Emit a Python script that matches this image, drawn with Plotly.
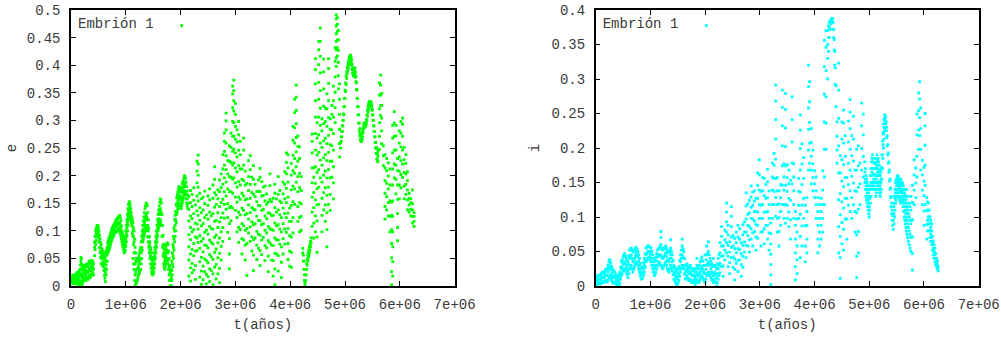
import plotly.graph_objects as go

# ---------------- data (t in millions of years) ----------------
x_ticks = [0, 1e6, 2e6, 3e6, 4e6, 5e6, 6e6, 7e6]
x_ticktext = ["0", "1e+06", "2e+06", "3e+06", "4e+06", "5e+06", "6e+06", "7e+06"]
e_ticks = [0, 0.05, 0.1, 0.15, 0.2, 0.25, 0.3, 0.35, 0.4, 0.45, 0.5]
e_ticktext = ["0", "0.05", "0.1", "0.15", "0.2", "0.25", "0.3", "0.35", "0.4", "0.45", "0.5"]
i_ticks = [0, 0.05, 0.1, 0.15, 0.2, 0.25, 0.3, 0.35, 0.4]
i_ticktext = ["0", "0.05", "0.1", "0.15", "0.2", "0.25", "0.3", "0.35", "0.4"]

series_name = "Embrión 1"

# eccentricity samples: (t [Myr], [e values at that time])
e_samples = [
    (0.00, [0.010, 0.015]), (0.01, [0.006, 0.012]), (0.02, [0.008, 0.014, 0.018]),
    (0.03, [0.004, 0.011, 0.016]), (0.04, [0.005, 0.012, 0.02]), (0.05, [0.008, 0.017]),
    (0.06, [0.01, 0.016]), (0.07, [0.004, 0.012, 0.019]), (0.08, [0.006, 0.013, 0.02]),
    (0.09, [0.01, 0.021]), (0.10, [0.008, 0.018, 0.022]), (0.11, [0.006, 0.015, 0.024]),
    (0.12, [0.004, 0.012, 0.025]), (0.13, [0.003, 0.014, 0.022]), (0.14, [0.002, 0.01, 0.02]),
    (0.15, [0.004, 0.016, 0.026]), (0.16, [0.005, 0.02, 0.03]), (0.17, [0.008, 0.024, 0.038]),
    (0.18, [0.01, 0.03, 0.045, 0.052]), (0.19, [0.0, 0.02, 0.04, 0.05]), (0.20, [0.004, 0.018, 0.035]),
    (0.21, [0.005, 0.015, 0.03]), (0.22, [0.008, 0.02, 0.032]),
    (0.23, [0.01, 0.025, 0.035]), (0.24, [0.013, 0.027, 0.037]), (0.25, [0.015, 0.03, 0.038]),
    (0.26, [0.012, 0.024, 0.036]), (0.27, [0.01, 0.02, 0.035]), (0.28, [0.013, 0.025, 0.038]),
    (0.29, [0.015, 0.028, 0.04]), (0.30, [0.014, 0.026, 0.037]), (0.31, [0.012, 0.025, 0.035]),
    (0.32, [0.016, 0.027, 0.04]), (0.33, [0.02, 0.03, 0.045]), (0.34, [0.017, 0.029, 0.043]),
    (0.35, [0.015, 0.028, 0.042]), (0.36, [0.018, 0.032, 0.044]), (0.37, [0.02, 0.035, 0.046]),
    (0.38, [0.022, 0.037, 0.046]), (0.39, [0.025, 0.04, 0.045]), (0.40, [0.022, 0.034, 0.043]),
    (0.41, [0.02, 0.03, 0.04]),
    (0.43, [0.055, 0.07, 0.08]), (0.44, [0.066, 0.079, 0.09]), (0.45, [0.075, 0.09, 0.1]),
    (0.46, [0.083, 0.095, 0.104]), (0.47, [0.09, 0.1, 0.108]), (0.48, [0.093, 0.103, 0.11]),
    (0.49, [0.095, 0.105, 0.11]), (0.50, [0.088, 0.098, 0.106]), (0.51, [0.08, 0.09, 0.1]),
    (0.52, [0.07, 0.08, 0.092]), (0.53, [0.06, 0.07, 0.085]), (0.54, [0.052, 0.063, 0.078]),
    (0.55, [0.04, 0.05, 0.06, 0.075]), (0.56, [0.042, 0.054, 0.068]), (0.57, [0.04, 0.055, 0.065]),
    (0.58, [0.037, 0.052, 0.062]), (0.59, [0.035, 0.05, 0.06]), (0.60, [0.028, 0.045, 0.058]),
    (0.61, [0.02, 0.04, 0.055]), (0.62, [0.014, 0.032, 0.05]), (0.63, [0.008, 0.025, 0.045, 0.06]),
    (0.64, [0.02, 0.038, 0.055, 0.063]), (0.65, [0.03, 0.045, 0.058, 0.065]),
    (0.66, [0.045, 0.058, 0.07]),
    (0.67, [0.06, 0.07, 0.078]), (0.68, [0.062, 0.072, 0.081]), (0.69, [0.065, 0.075, 0.085]),
    (0.70, [0.067, 0.078, 0.088]), (0.71, [0.07, 0.08, 0.09]), (0.72, [0.075, 0.085, 0.094]),
    (0.73, [0.08, 0.09, 0.097]), (0.74, [0.082, 0.092, 0.101]), (0.75, [0.085, 0.095, 0.105]),
    (0.76, [0.088, 0.098, 0.106]), (0.77, [0.09, 0.1, 0.108]), (0.78, [0.092, 0.103, 0.11]),
    (0.79, [0.095, 0.105, 0.112]), (0.80, [0.097, 0.106, 0.114]), (0.81, [0.1, 0.108, 0.116]),
    (0.82, [0.099, 0.109, 0.118]), (0.83, [0.098, 0.11, 0.12]), (0.84, [0.099, 0.111, 0.121]),
    (0.85, [0.1, 0.112, 0.122]), (0.86, [0.103, 0.114, 0.124]), (0.87, [0.105, 0.115, 0.125]),
    (0.88, [0.102, 0.115, 0.127]), (0.89, [0.1, 0.115, 0.128]), (0.90, [0.095, 0.11, 0.123]),
    (0.91, [0.09, 0.105, 0.118]), (0.92, [0.085, 0.098, 0.109]), (0.93, [0.08, 0.092, 0.1]),
    (0.94, [0.075, 0.086, 0.095]), (0.95, [0.07, 0.08, 0.09]), (0.96, [0.065, 0.075, 0.085]),
    (0.97, [0.06, 0.07, 0.08]), (0.98, [0.062, 0.072, 0.085]), (0.99, [0.065, 0.075, 0.09]),
    (1.00, [0.072, 0.085, 0.1]),
    (1.01, [0.08, 0.095, 0.11]), (1.02, [0.09, 0.105, 0.12]), (1.03, [0.1, 0.115, 0.13]),
    (1.04, [0.11, 0.125, 0.14]), (1.05, [0.12, 0.135, 0.148]), (1.06, [0.125, 0.14, 0.151]),
    (1.07, [0.13, 0.145, 0.153]), (1.08, [0.125, 0.137, 0.147]), (1.09, [0.12, 0.13, 0.14]),
    (1.10, [0.115, 0.125, 0.133]), (1.11, [0.11, 0.12, 0.125]), (1.12, [0.095, 0.108, 0.12]),
    (1.13, [0.05, 0.09, 0.1, 0.115]), (1.14, [0.04, 0.075, 0.09, 0.105]),
    (1.15, [0.03, 0.06, 0.08, 0.1]), (1.16, [0.01, 0.04, 0.06, 0.085]),
    (1.17, [0.0, 0.02, 0.04, 0.07]), (1.18, [0.003, 0.025, 0.045, 0.06]),
    (1.19, [0.005, 0.03, 0.05]), (1.20, [0.008, 0.03, 0.047]), (1.21, [0.01, 0.03, 0.045]),
    (1.22, [0.015, 0.032, 0.047]), (1.23, [0.02, 0.035, 0.05]), (1.24, [0.022, 0.04, 0.055]),
    (1.25, [0.025, 0.045, 0.06]), (1.26, [0.028, 0.047, 0.065]), (1.27, [0.03, 0.05, 0.07]),
    (1.28, [0.04, 0.06, 0.08]), (1.29, [0.05, 0.07, 0.09]), (1.30, [0.065, 0.083, 0.1]),
    (1.31, [0.08, 0.095, 0.11]), (1.32, [0.085, 0.103, 0.118]), (1.33, [0.09, 0.11, 0.125]),
    (1.34, [0.095, 0.115, 0.133]), (1.35, [0.1, 0.12, 0.14]), (1.36, [0.105, 0.125, 0.145]),
    (1.37, [0.11, 0.13, 0.15]), (1.38, [0.105, 0.125, 0.148]), (1.39, [0.1, 0.12, 0.145]),
    (1.40, [0.09, 0.11, 0.133]), (1.41, [0.08, 0.1, 0.12]), (1.42, [0.07, 0.088, 0.105]),
    (1.43, [0.06, 0.075, 0.09]), (1.44, [0.05, 0.065, 0.08]), (1.45, [0.04, 0.055, 0.07]),
    (1.46, [0.032, 0.048, 0.065]), (1.47, [0.025, 0.04, 0.06]), (1.48, [0.022, 0.035, 0.052]),
    (1.49, [0.02, 0.03, 0.045]), (1.50, [0.022, 0.035, 0.048]), (1.51, [0.025, 0.04, 0.05]),
    (1.52, [0.032, 0.047, 0.06]), (1.53, [0.04, 0.055, 0.07]), (1.54, [0.05, 0.065, 0.08]),
    (1.55, [0.06, 0.075, 0.09]), (1.56, [0.07, 0.085, 0.1]), (1.57, [0.08, 0.095, 0.11]),
    (1.58, [0.09, 0.105, 0.12]), (1.59, [0.1, 0.115, 0.13]), (1.60, [0.105, 0.122, 0.138]),
    (1.61, [0.11, 0.13, 0.145]), (1.62, [0.115, 0.135, 0.152]), (1.63, [0.12, 0.14, 0.158]),
    (1.64, [0.115, 0.135, 0.155]), (1.65, [0.11, 0.13, 0.15]), (1.66, [0.09, 0.11, 0.13]),
    (1.67, [0.07, 0.09, 0.11]), (1.68, [0.055, 0.075, 0.092]), (1.69, [0.04, 0.06, 0.075]),
    (1.70, [0.035, 0.052, 0.067]), (1.71, [0.03, 0.045, 0.06]), (1.72, [0.035, 0.05, 0.065]),
    (1.73, [0.04, 0.055, 0.07]), (1.74, [0.045, 0.06, 0.074]), (1.75, [0.05, 0.065, 0.078]),
    (1.76, [0.045, 0.063, 0.077]), (1.77, [0.04, 0.06, 0.075]), (1.78, [0.03, 0.048, 0.063]),
    (1.79, [0.02, 0.035, 0.05]), (1.80, [0.01, 0.022, 0.037]), (1.81, [0.0, 0.01, 0.025]),
    (1.82, [0.0, 0.012, 0.027]), (1.83, [0.0, 0.015, 0.03]), (1.84, [0.01, 0.028, 0.045]),
    (1.85, [0.02, 0.04, 0.06]), (1.86, [0.035, 0.055, 0.075]), (1.87, [0.05, 0.07, 0.09]),
    (1.88, [0.065, 0.085, 0.105]), (1.89, [0.08, 0.1, 0.12]), (1.90, [0.09, 0.11, 0.128]),
    (1.91, [0.1, 0.12, 0.135]), (1.92, [0.115, 0.133, 0.148]), (1.93, [0.13, 0.145, 0.16]),
    (1.94, [0.135, 0.15, 0.165]), (1.95, [0.14, 0.155, 0.17]), (1.96, [0.145, 0.16, 0.175]),
    (1.97, [0.15, 0.165, 0.18]), (1.98, [0.148, 0.162, 0.178]), (1.99, [0.145, 0.16, 0.175]),
    (2.00, [0.142, 0.157, 0.172]), (2.01, [0.14, 0.155, 0.17]), (2.02, [0.145, 0.162, 0.178]),
    (2.03, [0.15, 0.17, 0.185]), (2.04, [0.155, 0.172, 0.188]), (2.05, [0.16, 0.175, 0.19]),
    (2.06, [0.165, 0.18, 0.195]), (2.07, [0.17, 0.185, 0.2]), (2.08, [0.168, 0.183, 0.198]),
    (2.09, [0.165, 0.18, 0.195]), (2.10, [0.158, 0.172, 0.188]), (2.11, [0.15, 0.165, 0.18]),
    (2.12, [0.145, 0.158, 0.172]), (2.13, [0.14, 0.15, 0.165]),
    (2.15, [0.018, 0.047, 0.071, 0.093, 0.118, 0.139, 0.162]),
    (2.18, [0.009, 0.033, 0.058, 0.084, 0.106, 0.127, 0.151, 0.173]),
    (2.21, [0.024, 0.041, 0.066, 0.098, 0.122, 0.144, 0.166]),
    (2.24, [0.029, 0.055, 0.077, 0.102, 0.131, 0.155, 0.178]),
    (2.27, [0.012, 0.037, 0.063, 0.089, 0.114, 0.147]),
    (2.30, [0.064, 0.087, 0.112, 0.136, 0.163, 0.187, 0.208, 0.226]),
    (2.32, [0.079, 0.103, 0.128, 0.154, 0.179, 0.201, 0.221, 0.237]),
    (2.35, [0.016, 0.044, 0.068, 0.091, 0.119, 0.142, 0.168]),
    (2.38, [0.003, 0.027, 0.052, 0.081, 0.109, 0.133, 0.158]),
    (2.41, [0.011, 0.036, 0.062, 0.086, 0.113, 0.138, 0.161]),
    (2.44, [0.026, 0.049, 0.074, 0.097, 0.124, 0.149, 0.172]),
    (2.47, [0.004, 0.021, 0.046, 0.073, 0.101, 0.129]),
    (2.50, [0.017, 0.042, 0.069, 0.094, 0.121, 0.146, 0.163]),
    (2.53, [0.008, 0.031, 0.057, 0.083, 0.108, 0.134, 0.156, 0.176]),
    (2.56, [0.028, 0.053, 0.079, 0.104, 0.127]),
    (2.59, [0.002, 0.022, 0.048, 0.076, 0.103, 0.131, 0.159, 0.183]),
    (2.62, [0.034, 0.061, 0.088, 0.117, 0.143, 0.169, 0.193, 0.216]),
    (2.65, [0.013, 0.039, 0.067, 0.092, 0.119, 0.148, 0.165]),
    (2.68, [0.022, 0.051, 0.078, 0.106, 0.133, 0.158, 0.174]),
    (2.71, [0.006, 0.032, 0.059, 0.087, 0.116, 0.144, 0.171, 0.192]),
    (2.74, [0.047, 0.072, 0.098, 0.124, 0.151, 0.178, 0.203]),
    (2.77, [0.081, 0.106, 0.132, 0.157, 0.184, 0.212, 0.238]),
    (2.80, [0.123, 0.148, 0.171, 0.196, 0.219, 0.244, 0.262, 0.277]),
    (2.83, [0.139, 0.163, 0.188, 0.211, 0.236, 0.259, 0.283, 0.299, 0.313]),
    (2.86, [0.097, 0.124, 0.149, 0.176, 0.203, 0.227]),
    (2.89, [0.031, 0.058, 0.086, 0.113, 0.142, 0.171, 0.198, 0.226, 0.254]),
    (2.92, [0.118, 0.144, 0.171, 0.197, 0.224, 0.251, 0.277]),
    (2.95, [0.141, 0.168, 0.193, 0.219, 0.244, 0.271, 0.298, 0.323, 0.348, 0.362]),
    (2.97, [0.196, 0.223, 0.248, 0.272, 0.296, 0.317, 0.336, 0.354, 0.373]),
    (3.00, [0.137, 0.161, 0.187, 0.214, 0.241, 0.266, 0.289, 0.311, 0.331]),
    (3.03, [0.098, 0.124, 0.152, 0.179, 0.207, 0.234, 0.261, 0.283]),
    (3.06, [0.079, 0.106, 0.134, 0.161, 0.189, 0.218, 0.246, 0.274, 0.298]),
    (3.09, [0.102, 0.129, 0.157, 0.183, 0.212, 0.238, 0.262]),
    (3.12, [0.058, 0.086, 0.113, 0.141, 0.168, 0.193, 0.212]),
    (3.15, [0.083, 0.109, 0.137, 0.163, 0.191, 0.219, 0.246, 0.268]),
    (3.18, [0.047, 0.074, 0.101, 0.129, 0.156, 0.183, 0.208]),
    (3.21, [0.019, 0.077, 0.104, 0.131, 0.158, 0.186]),
    (3.24, [0.096, 0.121, 0.147, 0.173, 0.198, 0.227]),
    (3.27, [0.081, 0.107, 0.133, 0.159, 0.184, 0.211, 0.236]),
    (3.30, [0.063, 0.089, 0.116, 0.142, 0.169, 0.197]),
    (3.33, [0.028, 0.056, 0.084, 0.111, 0.139, 0.166, 0.193, 0.218]),
    (3.36, [0.087, 0.113, 0.138, 0.162, 0.184]),
    (3.39, [0.048, 0.074, 0.099, 0.126, 0.153, 0.171]),
    (3.42, [0.068, 0.094, 0.119, 0.146, 0.172, 0.192]),
    (3.45, [0.037, 0.064, 0.092, 0.118, 0.145, 0.171, 0.197, 0.213]),
    (3.48, [0.057, 0.083, 0.111, 0.137, 0.163, 0.189]),
    (3.51, [0.088, 0.113, 0.139, 0.164, 0.179]),
    (3.54, [0.046, 0.073, 0.101, 0.127, 0.154, 0.181]),
    (3.57, [0.069, 0.096, 0.122, 0.148, 0.167]),
    (3.60, [0.026, 0.054, 0.082, 0.108, 0.133, 0.152]),
    (3.63, [0.078, 0.104, 0.131, 0.157, 0.182, 0.203]),
    (3.66, [0.047, 0.074, 0.102, 0.128, 0.153]),
    (3.69, [0.018, 0.046, 0.073, 0.101, 0.128, 0.159]),
    (3.72, [0.002, 0.031, 0.059, 0.087, 0.114, 0.142, 0.168, 0.184]),
    (3.75, [0.058, 0.084, 0.109, 0.134, 0.158]),
    (3.78, [0.027, 0.055, 0.083, 0.111, 0.138, 0.166, 0.198]),
    (3.81, [0.076, 0.103, 0.129, 0.154, 0.173]),
    (3.84, [0.015, 0.043, 0.071, 0.098, 0.124, 0.151]),
    (3.87, [0.058, 0.086, 0.113, 0.141, 0.167, 0.188]),
    (3.90, [0.076, 0.103, 0.131, 0.158, 0.184, 0.207]),
    (3.93, [0.097, 0.124, 0.151, 0.177, 0.203, 0.224, 0.241]),
    (3.96, [0.048, 0.077, 0.104, 0.132, 0.161, 0.188, 0.214, 0.238]),
    (3.99, [0.036, 0.063, 0.091, 0.117, 0.141]),
    (4.02, [0.034, 0.061, 0.089, 0.117, 0.146, 0.174, 0.201, 0.222]),
    (4.05, [0.096, 0.124, 0.153, 0.181, 0.209, 0.237, 0.264, 0.289]),
    (4.08, [0.148, 0.176, 0.204, 0.231, 0.259, 0.287, 0.314, 0.338]),
    (4.11, [0.188, 0.216, 0.243, 0.269, 0.294, 0.318, 0.342, 0.364]),
    (4.14, [0.117, 0.144, 0.171, 0.198, 0.226, 0.253, 0.272]),
    (4.17, [0.098, 0.124, 0.151, 0.178, 0.204, 0.231, 0.252]),
    (4.20, [0.101, 0.126, 0.149, 0.173, 0.198]),
    (4.23, [0.06, 0.068]), (4.24, [0.045, 0.056]), (4.25, [0.03, 0.045]), (4.26, [0.01, 0.02]),
    (4.27, [0.0, 0.005]), (4.28, [0.01, 0.02]), (4.29, [0.02, 0.03]), (4.30, [0.03, 0.04]),
    (4.31, [0.038, 0.048]), (4.32, [0.045, 0.055]), (4.33, [0.05, 0.06]), (4.34, [0.055, 0.065]),
    (4.35, [0.06, 0.07]), (4.36, [0.065, 0.075]), (4.37, [0.071, 0.081]), (4.38, [0.078, 0.087]),
    (4.40, [0.108, 0.134, 0.161, 0.187, 0.214, 0.241, 0.262, 0.275]),
    (4.43, [0.087, 0.114, 0.142, 0.169, 0.197, 0.214]),
    (4.46, [0.098, 0.127, 0.156, 0.186, 0.216, 0.246, 0.276, 0.306, 0.336, 0.366, 0.392, 0.412]),
    (4.49, [0.061, 0.089, 0.118, 0.147, 0.176, 0.206, 0.237, 0.268, 0.296]),
    (4.52, [0.148, 0.179, 0.211, 0.242, 0.274, 0.306, 0.338, 0.369, 0.401, 0.428, 0.443]),
    (4.55, [0.196, 0.228, 0.259, 0.291, 0.322, 0.354, 0.386, 0.416, 0.443, 0.467]),
    (4.58, [0.098, 0.128, 0.159, 0.188, 0.219, 0.251, 0.281, 0.303]),
    (4.61, [0.138, 0.169, 0.201, 0.232, 0.263, 0.294, 0.326, 0.357, 0.388, 0.411]),
    (4.64, [0.117, 0.147, 0.178, 0.208, 0.238, 0.268, 0.298, 0.322]),
    (4.67, [0.071, 0.102, 0.133, 0.164, 0.196, 0.227, 0.258, 0.289, 0.321, 0.348]),
    (4.70, [0.148, 0.179, 0.211, 0.242, 0.273, 0.305, 0.336, 0.367, 0.394, 0.412]),
    (4.73, [0.137, 0.166, 0.196, 0.226, 0.256, 0.284, 0.303]),
    (4.76, [0.197, 0.226, 0.254, 0.283, 0.311, 0.327]),
    (4.79, [0.158, 0.187, 0.216, 0.246, 0.276, 0.306, 0.336, 0.362]),
    (4.82, [0.296, 0.323, 0.351, 0.379, 0.407, 0.432]),
    (4.84, [0.398, 0.413, 0.428, 0.443, 0.457, 0.471, 0.484, 0.491]),
    (4.86, [0.417, 0.432, 0.446, 0.461, 0.474, 0.486]),
    (4.88, [0.357, 0.381, 0.405, 0.427, 0.446, 0.463]),
    (4.90, [0.234, 0.258, 0.284, 0.311, 0.338, 0.366]),
    (4.92, [0.25, 0.26]), (4.93, [0.262, 0.27]), (4.94, [0.27, 0.28]), (4.95, [0.28, 0.29]),
    (4.96, [0.29, 0.3]), (4.97, [0.3, 0.312]), (4.98, [0.31, 0.325]), (4.99, [0.325, 0.34]),
    (5.00, [0.34, 0.355]), (5.01, [0.352, 0.368]), (5.02, [0.365, 0.38]), (5.03, [0.376, 0.388]),
    (5.04, [0.385, 0.395]), (5.05, [0.39, 0.4]), (5.06, [0.395, 0.405]), (5.07, [0.4, 0.41]),
    (5.08, [0.405, 0.415]), (5.09, [0.408, 0.417]), (5.10, [0.41, 0.418]), (5.11, [0.405, 0.414]),
    (5.12, [0.4, 0.41]), (5.13, [0.392, 0.402]), (5.14, [0.385, 0.395]), (5.15, [0.382, 0.392]),
    (5.16, [0.38, 0.39]), (5.17, [0.383, 0.393]), (5.18, [0.385, 0.395]), (5.19, [0.378, 0.388]),
    (5.20, [0.37, 0.38]), (5.21, [0.356, 0.368]), (5.22, [0.34, 0.355]), (5.23, [0.325, 0.34]),
    (5.24, [0.31, 0.325]), (5.25, [0.295, 0.31]), (5.26, [0.28, 0.295]), (5.27, [0.272, 0.285]),
    (5.28, [0.265, 0.275]), (5.29, [0.262, 0.272]), (5.30, [0.262, 0.27]), (5.31, [0.265, 0.275]),
    (5.32, [0.27, 0.28]), (5.33, [0.278, 0.286]), (5.34, [0.285, 0.292]), (5.35, [0.287, 0.294]),
    (5.36, [0.288, 0.295]), (5.37, [0.289, 0.296]), (5.38, [0.29, 0.296]), (5.39, [0.294, 0.302]),
    (5.40, [0.3, 0.31]), (5.41, [0.308, 0.318]), (5.42, [0.315, 0.325]), (5.43, [0.32, 0.33]),
    (5.44, [0.325, 0.333]), (5.45, [0.327, 0.334]), (5.46, [0.328, 0.334]), (5.47, [0.327, 0.334]),
    (5.48, [0.325, 0.332]), (5.49, [0.318, 0.327]), (5.50, [0.31, 0.32]), (5.51, [0.3, 0.31]),
    (5.52, [0.29, 0.3]), (5.53, [0.28, 0.29]), (5.54, [0.27, 0.28]), (5.55, [0.26, 0.27]),
    (5.56, [0.25, 0.26]), (5.57, [0.24, 0.25]), (5.58, [0.23, 0.24, 0.25]), (5.59, [0.228, 0.24]),
    (5.60, [0.225, 0.235, 0.245]),
    (5.63, [0.247, 0.271, 0.296, 0.321, 0.346, 0.368]),
    (5.65, [0.309, 0.327, 0.346, 0.364, 0.382]),
    (5.67, [0.258, 0.281, 0.304, 0.327, 0.349]),
    (5.70, [0.218, 0.236, 0.254]),
    (5.73, [0.121, 0.144, 0.168, 0.191, 0.214, 0.238]),
    (5.76, [0.138, 0.162, 0.186, 0.209, 0.231]),
    (5.79, [0.127, 0.151, 0.176, 0.199, 0.223]),
    (5.82, [0.098, 0.126, 0.154, 0.183, 0.212]),
    (5.85, [0.002, 0.026, 0.051, 0.077, 0.102, 0.128, 0.152]),
    (5.87, [0.018, 0.044, 0.071, 0.098, 0.126, 0.154, 0.183, 0.212, 0.241, 0.268, 0.291]),
    (5.90, [0.196, 0.221, 0.246, 0.271, 0.295, 0.316]),
    (5.93, [0.167, 0.193, 0.219, 0.246, 0.272, 0.291]),
    (5.96, [0.082, 0.106, 0.131, 0.157, 0.183, 0.209, 0.231]),
    (5.99, [0.158, 0.183, 0.208, 0.234, 0.259, 0.281]),
    (6.02, [0.178, 0.202, 0.227, 0.252, 0.277, 0.298]),
    (6.05, [0.197, 0.221, 0.246, 0.271, 0.293, 0.304]),
    (6.08, [0.158, 0.181, 0.206, 0.229, 0.251]),
    (6.11, [0.166, 0.184, 0.203, 0.222, 0.238]),
    (6.14, [0.138, 0.156, 0.174, 0.191, 0.207]),
    (6.17, [0.134, 0.147, 0.159, 0.168]),
    (6.20, [0.127, 0.139, 0.151, 0.158]),
    (6.23, [0.114, 0.126, 0.138, 0.149, 0.174]),
    (6.26, [0.108, 0.117, 0.126, 0.133]),
]

# inclination samples: (t [Myr], [i values at that time])
i_samples = [
    (0.00, [0.004, 0.01, 0.014]), (0.015, [0.003, 0.009, 0.013]), (0.03, [0.002, 0.008, 0.013]),
    (0.045, [0.004, 0.009, 0.015]), (0.06, [0.005, 0.01, 0.016]), (0.075, [0.004, 0.01, 0.015]),
    (0.09, [0.003, 0.009, 0.015]), (0.105, [0.005, 0.011, 0.018]), (0.12, [0.006, 0.013, 0.02]),
    (0.135, [0.006, 0.012, 0.019]), (0.15, [0.005, 0.012, 0.018]), (0.165, [0.007, 0.014, 0.021]),
    (0.18, [0.008, 0.016, 0.024]), (0.195, [0.007, 0.015, 0.024]), (0.21, [0.006, 0.015, 0.025]),
    (0.225, [0.009, 0.02, 0.03]), (0.24, [0.012, 0.025, 0.035]), (0.25, [0.014, 0.027, 0.037]),
    (0.26, [0.015, 0.028, 0.038]), (0.275, [0.011, 0.023, 0.033]), (0.29, [0.008, 0.018, 0.028]),
    (0.305, [0.006, 0.015, 0.025]), (0.32, [0.004, 0.012, 0.022]), (0.335, [0.005, 0.013, 0.021]),
    (0.35, [0.006, 0.014, 0.02]), (0.365, [0.004, 0.011, 0.017]), (0.38, [0.002, 0.008, 0.015]),
    (0.395, [0.001, 0.007, 0.013]), (0.41, [0.0, 0.006, 0.012]), (0.425, [0.002, 0.009, 0.016]),
    (0.44, [0.004, 0.012, 0.02]), (0.455, [0.01, 0.018, 0.027]), (0.47, [0.015, 0.025, 0.035]),
    (0.485, [0.018, 0.028, 0.038]), (0.50, [0.022, 0.032, 0.042]), (0.515, [0.023, 0.033, 0.045]),
    (0.53, [0.025, 0.035, 0.047]), (0.545, [0.022, 0.032, 0.043]), (0.56, [0.02, 0.03, 0.04]),
    (0.575, [0.016, 0.026, 0.037]), (0.59, [0.012, 0.022, 0.035]), (0.605, [0.018, 0.031, 0.044]),
    (0.62, [0.025, 0.04, 0.052]), (0.635, [0.028, 0.043, 0.054]), (0.65, [0.03, 0.045, 0.055]),
    (0.665, [0.025, 0.04, 0.052]), (0.68, [0.02, 0.035, 0.05]), (0.695, [0.024, 0.038, 0.051]),
    (0.71, [0.028, 0.04, 0.052]), (0.725, [0.032, 0.044, 0.054]), (0.74, [0.035, 0.048, 0.056]),
    (0.755, [0.033, 0.045, 0.053]), (0.77, [0.03, 0.042, 0.05]), (0.785, [0.025, 0.036, 0.045]),
    (0.80, [0.02, 0.03, 0.04]), (0.815, [0.015, 0.024, 0.033]), (0.83, [0.01, 0.018, 0.026]),
    (0.845, [0.011, 0.019, 0.027]), (0.86, [0.012, 0.02, 0.028]), (0.875, [0.016, 0.025, 0.034]),
    (0.89, [0.02, 0.03, 0.04]), (0.905, [0.027, 0.037, 0.047]), (0.92, [0.035, 0.045, 0.055]),
    (0.935, [0.037, 0.047, 0.056]), (0.95, [0.04, 0.05, 0.058]), (0.965, [0.041, 0.05, 0.058]),
    (0.98, [0.042, 0.05, 0.057]), (0.995, [0.038, 0.047, 0.056]), (1.01, [0.035, 0.045, 0.055]),
    (1.025, [0.03, 0.04, 0.05]), (1.04, [0.025, 0.035, 0.045]), (1.055, [0.02, 0.03, 0.04]),
    (1.07, [0.015, 0.025, 0.035]), (1.085, [0.017, 0.027, 0.038]), (1.10, [0.02, 0.03, 0.042]),
    (1.115, [0.025, 0.036, 0.047]), (1.13, [0.03, 0.042, 0.052]), (1.145, [0.032, 0.043, 0.053]),
    (1.16, [0.035, 0.045, 0.055]), (1.175, [0.032, 0.045, 0.058]),
    (1.19, [0.03, 0.045, 0.06, 0.07, 0.079]), (1.205, [0.028, 0.042, 0.055]),
    (1.22, [0.025, 0.04, 0.052]), (1.235, [0.027, 0.041, 0.053]), (1.25, [0.03, 0.042, 0.055]),
    (1.265, [0.032, 0.045, 0.056]), (1.28, [0.035, 0.048, 0.058]), (1.295, [0.03, 0.043, 0.054]),
    (1.31, [0.025, 0.038, 0.05]), (1.325, [0.022, 0.036, 0.049]), (1.34, [0.02, 0.035, 0.048]),
    (1.355, [0.025, 0.04, 0.052]), (1.37, [0.03, 0.045, 0.055, 0.067]), (1.385, [0.026, 0.04, 0.05]),
    (1.40, [0.022, 0.035, 0.045]), (1.415, [0.016, 0.027, 0.037]), (1.43, [0.01, 0.02, 0.03]),
    (1.445, [0.007, 0.017, 0.027]), (1.46, [0.005, 0.015, 0.025]), (1.475, [0.002, 0.012, 0.022]),
    (1.49, [0.0, 0.01, 0.02]), (1.505, [0.004, 0.014, 0.024]), (1.52, [0.008, 0.018, 0.028]),
    (1.535, [0.014, 0.026, 0.037]), (1.55, [0.02, 0.035, 0.045]), (1.565, [0.025, 0.04, 0.052]),
    (1.58, [0.03, 0.045, 0.058, 0.068]), (1.595, [0.028, 0.042, 0.054]), (1.61, [0.025, 0.04, 0.05]),
    (1.625, [0.017, 0.03, 0.04]), (1.64, [0.01, 0.02, 0.03]), (1.655, [0.012, 0.022, 0.031]),
    (1.67, [0.015, 0.025, 0.032]), (1.685, [0.011, 0.021, 0.028]), (1.70, [0.008, 0.018, 0.025]),
    (1.715, [0.009, 0.019, 0.027]), (1.73, [0.01, 0.02, 0.03]), (1.745, [0.007, 0.017, 0.026]),
    (1.76, [0.005, 0.015, 0.022]), (1.775, [0.006, 0.015, 0.023]), (1.79, [0.008, 0.016, 0.025]),
    (1.805, [0.005, 0.013, 0.022]), (1.82, [0.002, 0.01, 0.02]), (1.835, [0.006, 0.015, 0.025]),
    (1.85, [0.01, 0.02, 0.03, 0.04]), (1.865, [0.007, 0.017, 0.027]), (1.88, [0.005, 0.015, 0.025]),
    (1.895, [0.007, 0.017, 0.03]), (1.91, [0.01, 0.02, 0.035]), (1.925, [0.012, 0.024, 0.038]),
    (1.94, [0.015, 0.028, 0.042]), (1.955, [0.012, 0.024, 0.036]), (1.97, [0.01, 0.02, 0.03]),
    (1.985, [0.007, 0.019, 0.03]), (2.00, [0.005, 0.018, 0.03, 0.045]), (2.015, [0.01, 0.024, 0.038]),
    (2.03, [0.015, 0.03, 0.045, 0.058]), (2.045, [0.018, 0.032, 0.047]),
    (2.06, [0.02, 0.035, 0.05, 0.064]), (2.075, [0.017, 0.032, 0.045]),
    (2.09, [0.015, 0.03, 0.04]), (2.105, [0.012, 0.025, 0.036]), (2.12, [0.01, 0.02, 0.032]),
    (2.135, [0.008, 0.018, 0.03]), (2.15, [0.005, 0.015, 0.028, 0.04]), (2.165, [0.008, 0.018, 0.029]),
    (2.18, [0.01, 0.02, 0.03]), (2.195, [0.005, 0.016, 0.028]), (2.21, [0.0, 0.012, 0.025]),
    (2.225, [0.005, 0.018, 0.032]), (2.24, [0.01, 0.025, 0.04]), (2.255, [0.015, 0.03, 0.045]),
    (2.27, [0.019, 0.033, 0.048, 0.063]), (2.30, [0.028, 0.043, 0.058, 0.072, 0.086]),
    (2.33, [0.014, 0.029, 0.044, 0.058]), (2.36, [0.038, 0.052, 0.067, 0.081]),
    (2.39, [0.048, 0.063, 0.078, 0.093, 0.107, 0.12]), (2.42, [0.028, 0.043, 0.059, 0.074, 0.088]),
    (2.45, [0.018, 0.034, 0.049, 0.064]), (2.48, [0.041, 0.056, 0.071, 0.086, 0.101, 0.115]),
    (2.51, [0.027, 0.042, 0.058, 0.073]), (2.54, [0.009, 0.024, 0.039, 0.054, 0.069]),
    (2.57, [0.033, 0.048, 0.063, 0.078]), (2.60, [0.021, 0.037, 0.054, 0.071, 0.088]),
    (2.63, [0.038, 0.053, 0.068, 0.083]), (2.66, [0.014, 0.031, 0.047, 0.063]),
    (2.69, [0.027, 0.043, 0.059, 0.074, 0.089]), (2.72, [0.049, 0.064, 0.078, 0.093]),
    (2.75, [0.041, 0.059, 0.078, 0.097, 0.116, 0.135]), (2.78, [0.058, 0.073, 0.088, 0.104, 0.119]),
    (2.81, [0.049, 0.067, 0.086, 0.106, 0.124]), (2.84, [0.068, 0.083, 0.098, 0.114, 0.129, 0.145]),
    (2.87, [0.058, 0.077, 0.097, 0.117, 0.136]), (2.90, [0.079, 0.094, 0.108, 0.123, 0.138]),
    (2.93, [0.052, 0.071, 0.089, 0.108, 0.127]), (2.96, [0.069, 0.088, 0.107, 0.127, 0.146, 0.164]),
    (2.99, [0.098, 0.118, 0.139, 0.161, 0.183]), (3.02, [0.058, 0.078, 0.098, 0.117, 0.137]),
    (3.05, [0.079, 0.098, 0.118, 0.138, 0.157]), (3.08, [0.061, 0.083, 0.107, 0.131, 0.156]),
    (3.11, [0.088, 0.107, 0.127, 0.147]), (3.14, [0.068, 0.088, 0.108, 0.128, 0.151, 0.169]),
    (3.17, [0.052, 0.077, 0.098, 0.118, 0.138]),
    (3.20, [0.002, 0.016, 0.031, 0.046, 0.061, 0.076, 0.091]),
    (3.23, [0.098, 0.118, 0.139, 0.158, 0.178]), (3.26, [0.118, 0.137, 0.156, 0.175, 0.192]),
    (3.29, [0.101, 0.128, 0.156, 0.184, 0.213, 0.241, 0.268, 0.291]),
    (3.32, [0.078, 0.098, 0.118, 0.138, 0.157]), (3.35, [0.058, 0.079, 0.099, 0.119, 0.138]),
    (3.38, [0.088, 0.108, 0.128, 0.147]),
    (3.41, [0.118, 0.146, 0.174, 0.203, 0.232, 0.259, 0.284]),
    (3.44, [0.098, 0.118, 0.139, 0.158, 0.177]),
    (3.47, [0.091, 0.118, 0.146, 0.174, 0.202, 0.229, 0.256, 0.279]),
    (3.50, [0.098, 0.117, 0.137, 0.157, 0.176]), (3.53, [0.086, 0.107, 0.127, 0.148, 0.168]),
    (3.56, [0.068, 0.096, 0.124, 0.153]), (3.59, [0.148, 0.178, 0.209, 0.241, 0.274]),
    (3.62, [0.098, 0.118, 0.138, 0.158, 0.177]), (3.65, [0.009, 0.028, 0.048, 0.068, 0.088, 0.108]),
    (3.68, [0.018, 0.038, 0.058, 0.078, 0.097]), (3.71, [0.098, 0.117, 0.137, 0.156]),
    (3.74, [0.041, 0.072, 0.104, 0.136, 0.168, 0.199, 0.226, 0.248]),
    (3.77, [0.058, 0.087, 0.117, 0.147, 0.177, 0.206]), (3.80, [0.098, 0.127, 0.156, 0.186]),
    (3.83, [0.035, 0.058, 0.087, 0.117]), (3.86, [0.048, 0.068, 0.088, 0.108, 0.128]),
    (3.89, [0.168, 0.197, 0.227, 0.258, 0.289, 0.32]), (3.91, [0.178, 0.207, 0.237, 0.267, 0.296]),
    (3.94, [0.148, 0.168, 0.188, 0.208, 0.228]), (3.97, [0.138, 0.157, 0.177, 0.197]),
    (4.00, [0.128, 0.148, 0.167]), (4.03, [0.098, 0.118, 0.138, 0.158]),
    (4.06, [0.048, 0.068, 0.088, 0.108, 0.128]), (4.09, [0.058, 0.078, 0.098, 0.118]),
    (4.12, [0.068, 0.088, 0.108, 0.127]), (4.15, [0.078, 0.098, 0.118, 0.139, 0.167]),
    (4.18, [0.118, 0.158, 0.198, 0.238, 0.278, 0.318, 0.356]),
    (4.21, [0.198, 0.236, 0.274, 0.312, 0.346, 0.37]),
    (4.24, [0.3, 0.33, 0.35, 0.37]), (4.255, [0.34, 0.36, 0.377]), (4.27, [0.36, 0.375, 0.382]),
    (4.285, [0.372, 0.384]), (4.30, [0.38, 0.386]), (4.315, [0.382, 0.388]),
    (4.33, [0.383, 0.388]), (4.34, [0.372, 0.382]), (4.35, [0.36, 0.372]), (4.36, [0.342, 0.357]),
    (4.37, [0.32, 0.34]), (4.38, [0.292, 0.316]), (4.39, [0.26, 0.29]),
    (4.41, [0.178, 0.197, 0.217, 0.238]),
    (4.44, [0.048, 0.086, 0.125, 0.164, 0.203, 0.243, 0.284, 0.323]),
    (4.47, [0.011, 0.041, 0.072, 0.103, 0.134, 0.164, 0.189]),
    (4.50, [0.061, 0.092, 0.122, 0.152, 0.183, 0.213, 0.238]),
    (4.53, [0.052, 0.082, 0.113, 0.144, 0.176, 0.207, 0.236, 0.255]),
    (4.56, [0.097, 0.127, 0.157, 0.188, 0.218]), (4.59, [0.068, 0.097, 0.127, 0.157]),
    (4.62, [0.117, 0.147, 0.178, 0.209, 0.239]),
    (4.65, [0.108, 0.138, 0.168, 0.198, 0.228, 0.252, 0.27]),
    (4.68, [0.098, 0.128, 0.159, 0.189, 0.218]), (4.71, [0.118, 0.149, 0.181, 0.213, 0.246]),
    (4.74, [0.078, 0.108, 0.138, 0.168]),
    (4.77, [0.012, 0.043, 0.074, 0.106, 0.137, 0.168, 0.198]),
    (4.80, [0.048, 0.079, 0.111, 0.143, 0.174, 0.203]), (4.83, [0.118, 0.148, 0.178]),
    (4.86, [0.168, 0.199, 0.232, 0.265]), (4.89, [0.158, 0.188, 0.219, 0.249]),
    (4.92, [0.15, 0.165, 0.18]), (4.93, [0.14, 0.155, 0.17]), (4.94, [0.13, 0.145, 0.16]),
    (4.95, [0.125, 0.14, 0.155]), (4.96, [0.12, 0.135, 0.15]), (4.97, [0.115, 0.13, 0.145]),
    (4.98, [0.11, 0.125, 0.14]), (4.99, [0.105, 0.12, 0.135]), (5.00, [0.1, 0.115, 0.13]),
    (5.01, [0.11, 0.127, 0.145]), (5.02, [0.12, 0.14, 0.16]), (5.03, [0.13, 0.15, 0.17]),
    (5.04, [0.14, 0.16, 0.18]), (5.05, [0.145, 0.165, 0.185]), (5.06, [0.15, 0.17, 0.19]),
    (5.07, [0.145, 0.162, 0.18]), (5.08, [0.14, 0.155, 0.17]), (5.09, [0.145, 0.162, 0.178]),
    (5.10, [0.15, 0.17, 0.185]), (5.11, [0.14, 0.16, 0.178]), (5.12, [0.13, 0.15, 0.17]),
    (5.13, [0.135, 0.155, 0.175]), (5.14, [0.14, 0.16, 0.18, 0.19]), (5.15, [0.145, 0.165, 0.183]),
    (5.16, [0.15, 0.17, 0.185]), (5.17, [0.145, 0.165, 0.18]), (5.18, [0.14, 0.16, 0.175]),
    (5.19, [0.135, 0.152, 0.168]), (5.20, [0.13, 0.145, 0.16]), (5.21, [0.135, 0.15, 0.165]),
    (5.22, [0.14, 0.155, 0.17]), (5.23, [0.155, 0.172, 0.19]), (5.24, [0.17, 0.19, 0.21]),
    (5.25, [0.185, 0.205, 0.222]), (5.26, [0.2, 0.22, 0.235]), (5.27, [0.213, 0.23, 0.242]),
    (5.28, [0.225, 0.24, 0.248]), (5.29, [0.23, 0.243]), (5.30, [0.235, 0.245]), (5.31, [0.225, 0.238]),
    (5.32, [0.215, 0.23]), (5.33, [0.203, 0.218]), (5.34, [0.19, 0.205]), (5.35, [0.178, 0.193]),
    (5.36, [0.165, 0.18]), (5.37, [0.152, 0.168]), (5.38, [0.14, 0.155]), (5.39, [0.128, 0.142]),
    (5.40, [0.115, 0.13]), (5.41, [0.105, 0.12]), (5.42, [0.095, 0.11]), (5.43, [0.088, 0.102]),
    (5.44, [0.082, 0.095]), (5.45, [0.09, 0.105, 0.115]), (5.46, [0.1, 0.12, 0.13]),
    (5.47, [0.11, 0.127, 0.14]), (5.48, [0.12, 0.135, 0.15]), (5.49, [0.125, 0.14, 0.153]),
    (5.50, [0.13, 0.145, 0.155]), (5.51, [0.135, 0.148, 0.158]), (5.52, [0.14, 0.15, 0.16]),
    (5.53, [0.135, 0.148, 0.158]), (5.54, [0.13, 0.145, 0.155]), (5.55, [0.128, 0.142, 0.153]),
    (5.56, [0.125, 0.14, 0.15]), (5.57, [0.122, 0.137, 0.148]), (5.58, [0.12, 0.135, 0.145, 0.155]),
    (5.59, [0.125, 0.138, 0.148]), (5.60, [0.13, 0.14, 0.15]), (5.61, [0.122, 0.135, 0.148]),
    (5.62, [0.115, 0.13, 0.145]), (5.63, [0.108, 0.125, 0.14]), (5.64, [0.1, 0.12, 0.135]),
    (5.65, [0.095, 0.115, 0.133]), (5.66, [0.09, 0.11, 0.13, 0.14]), (5.67, [0.085, 0.105, 0.125]),
    (5.68, [0.08, 0.1, 0.12, 0.14]), (5.69, [0.075, 0.095, 0.115]),
    (5.70, [0.07, 0.09, 0.11, 0.13]), (5.715, [0.065, 0.085, 0.105]), (5.73, [0.06, 0.08, 0.1, 0.12]),
    (5.745, [0.055, 0.075, 0.095, 0.115]),
    (5.76, [0.05, 0.07, 0.09, 0.11, 0.13]),
    (5.79, [0.023, 0.047, 0.071, 0.096, 0.121, 0.146]),
    (5.82, [0.118, 0.139, 0.161, 0.183]), (5.85, [0.128, 0.149, 0.171]),
    (5.87, [0.158, 0.188, 0.219, 0.249]), (5.90, [0.198, 0.226, 0.254, 0.28]),
    (5.92, [0.218, 0.244, 0.271, 0.296]), (5.94, [0.168, 0.198, 0.228, 0.258]),
    (5.97, [0.118, 0.139, 0.161, 0.182]), (6.00, [0.088, 0.109, 0.131, 0.152, 0.172]),
    (6.02, [0.118, 0.146, 0.175, 0.204, 0.232, 0.25]), (6.05, [0.068, 0.089, 0.109, 0.128]),
    (6.065, [0.08, 0.095, 0.11, 0.122]),
    (6.08, [0.09, 0.1, 0.11, 0.12]), (6.095, [0.08, 0.09, 0.1, 0.11]), (6.11, [0.07, 0.08, 0.09, 0.1]),
    (6.125, [0.065, 0.075, 0.085, 0.095]),
    (6.14, [0.06, 0.07, 0.08, 0.09]), (6.155, [0.052, 0.062, 0.072]), (6.17, [0.045, 0.055, 0.065]),
    (6.185, [0.04, 0.05, 0.06]),
    (6.20, [0.035, 0.045, 0.055]), (6.215, [0.031, 0.04, 0.047]), (6.23, [0.028, 0.035, 0.04]),
    (6.245, [0.025, 0.031, 0.036]), (6.26, [0.022, 0.028]),
]

# ---------------- build flat arrays ----------------
def flatten(samples):
    xs, ys = [], []
    for t, vals in samples:
        for v in vals:
            xs.append(t * 1e6)
            ys.append(v)
    return xs, ys

te, ev = flatten(e_samples)
ti, iv = flatten(i_samples)

FONT = "Liberation Mono"
TXT = "#3a3a3a"

fig = go.Figure()
fig.add_trace(go.Scatter(
    x=te, y=ev, mode="markers", name=" ",
    marker=dict(color="#00ff00", size=2.8, symbol="square", line=dict(width=0)),
    xaxis="x", yaxis="y", legend="legend",
))
fig.add_trace(go.Scatter(
    x=ti, y=iv, mode="markers", name=" ",
    marker=dict(color="#00ffff", size=2.8, symbol="square", line=dict(width=0)),
    xaxis="x2", yaxis="y2", legend="legend2",
))

ydom = [1 - 286 / 337, 1 - 10 / 337]

def xaxis(domain, anchor):
    return dict(
        domain=domain, anchor=anchor, range=[0, 7e6], automargin=False,
        tickvals=x_ticks, ticktext=x_ticktext,
        ticks="inside", ticklen=5, tickcolor="black", tickwidth=1,
        showline=True, linecolor="black", linewidth=1.5, mirror="ticks",
        showgrid=False, zeroline=False,
        tickfont=dict(family=FONT, size=14, color=TXT),
        ticklabelstandoff=4,
        title=dict(text="t(años)", font=dict(family=FONT, size=14, color=TXT), standoff=8),
    )

def yaxis(anchor, ymax, tv, tt, title, standoff):
    return dict(
        domain=ydom, anchor=anchor, range=[0, ymax], automargin=False,
        tickvals=tv, ticktext=tt,
        ticks="inside", ticklen=5, tickcolor="black", tickwidth=1,
        showline=True, linecolor="black", linewidth=1.5, mirror="ticks",
        showgrid=False, zeroline=False,
        tickfont=dict(family=FONT, size=14, color=TXT),
        ticklabelstandoff=6,
        title=dict(text=title, font=dict(family=FONT, size=14, color=TXT), standoff=standoff),
    )

leg_common = dict(
    font=dict(family=FONT, size=14, color=TXT),
    bgcolor="rgba(0,0,0,0)", borderwidth=0,
    xanchor="left", yanchor="top", itemsizing="trace",
    itemwidth=30,
)

fig.update_layout(
    width=1001, height=337,
    margin=dict(l=0, r=0, t=0, b=0, autoexpand=False),
    paper_bgcolor="white", plot_bgcolor="white",
    font=dict(family=FONT, size=14, color=TXT),
    xaxis=xaxis([71 / 1001, 454.6 / 1001], "y"),
    yaxis=yaxis("x", 0.5, e_ticks, e_ticktext, "e", 7),
    xaxis2=xaxis([595.7 / 1001, 978.7 / 1001], "y2"),
    yaxis2=yaxis("x2", 0.4, i_ticks, i_ticktext, "i", 9),
    legend=dict(x=76 / 1001, y=1 - 10 / 337,
                title=dict(text=series_name, side="left",
                           font=dict(family=FONT, size=14, color=TXT)),
                **leg_common),
    legend2=dict(x=600.7 / 1001, y=1 - 10 / 337,
                 title=dict(text=series_name, side="left",
                            font=dict(family=FONT, size=14, color=TXT)),
                 **leg_common),
    showlegend=True,
)

fig.write_html("out.html")
